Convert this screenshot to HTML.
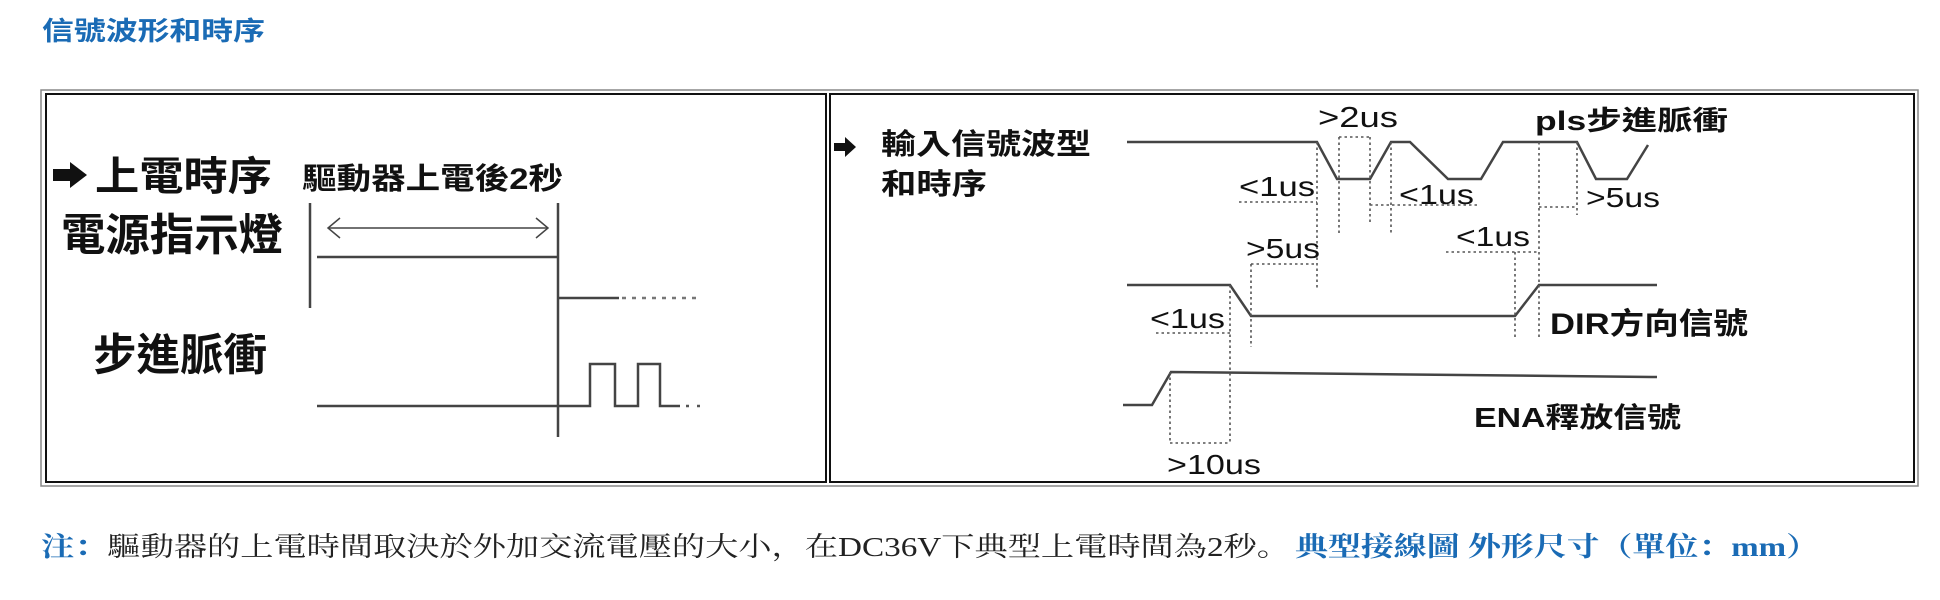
<!DOCTYPE html>
<html><head><meta charset="utf-8"><style>
html,body{margin:0;padding:0;background:#fff;width:1940px;height:600px;overflow:hidden}
svg{display:block}
.cj{font-family:"Liberation Sans","Noto Sans CJK TC",sans-serif;fill:#111}
.bd{font-weight:bold}
.ln{fill:none;stroke:#444;stroke-width:2.5}
.dt{fill:none;stroke:#555;stroke-width:1.6;stroke-dasharray:2.5,3}
.nt{font-family:"Liberation Serif","Noto Serif CJK SC","Noto Sans CJK TC",serif;font-size:27px}
</style></head><body>
<svg width="1940" height="600" viewBox="0 0 1940 600" xmlns="http://www.w3.org/2000/svg">
<text x="42" y="40" font-family="Liberation Sans, Noto Sans CJK TC, sans-serif" font-weight="bold" font-size="26" fill="#1a6bb5" textLength="223" lengthAdjust="spacingAndGlyphs">信號波形和時序</text>

<rect x="41" y="90" width="1877" height="396" fill="none" stroke="#888" stroke-width="1.5"/>
<rect x="46" y="94" width="780" height="388" fill="none" stroke="#111" stroke-width="2"/>
<rect x="830" y="94" width="1084" height="388" fill="none" stroke="#111" stroke-width="2"/>

<!-- left panel -->
<polygon points="53,169 70,169 70,162 87,175 70,188 70,181 53,181" fill="#111"/>
<text class="cj bd" x="95" y="190" font-size="40" textLength="177" lengthAdjust="spacingAndGlyphs">上電時序</text>
<text class="cj bd" x="302" y="189" font-size="30" textLength="261" lengthAdjust="spacingAndGlyphs">驅動器上電後2秒</text>
<text class="cj bd" x="61" y="250" font-size="44" textLength="222" lengthAdjust="spacingAndGlyphs">電源指示燈</text>
<text class="cj bd" x="93" y="370" font-size="44" textLength="174" lengthAdjust="spacingAndGlyphs">步進脈衝</text>

<line class="ln" x1="310" y1="203" x2="310" y2="308"/>
<line x1="328" y1="228" x2="548" y2="228" stroke="#444" stroke-width="1.5"/>
<polyline points="340,218 328,228 340,238" fill="none" stroke="#444" stroke-width="1.5"/>
<polyline points="536,218 548,228 536,238" fill="none" stroke="#444" stroke-width="1.5"/>
<line class="ln" x1="317" y1="257" x2="558" y2="257"/>
<line class="ln" x1="558" y1="203" x2="558" y2="437"/>
<line class="ln" x1="558" y1="298" x2="619" y2="298" stroke="#777"/>
<line x1="622" y1="298" x2="702" y2="298" stroke="#777" stroke-width="2.5" stroke-dasharray="4,6"/>
<polyline class="ln" points="317,406 590,406 590,364 615,364 615,406 638,406 638,364 660,364 660,406 680,406"/>
<line x1="686" y1="406" x2="702" y2="406" stroke="#555" stroke-width="2.5" stroke-dasharray="3,8"/>

<!-- right panel -->
<polygon points="834,143 845,143 845,137 856,147 845,157 845,151 834,151" fill="#111"/>
<text class="cj bd" x="881" y="154" font-size="29" textLength="210" lengthAdjust="spacingAndGlyphs">輸入信號波型</text>
<text class="cj bd" x="881" y="194" font-size="29" textLength="106" lengthAdjust="spacingAndGlyphs">和時序</text>

<polyline class="ln" points="1127,142 1317,142 1337,179 1370,179 1391,142 1410,142 1448,179 1481,179 1503,142 1577,142 1596,179 1627,179 1648,145"/>
<polyline class="ln" points="1127,285 1230,285 1251,316 1515,316 1539,285 1657,285"/>
<polyline class="ln" points="1123,405 1152,405 1171,372 1657,377"/>

<line class="dt" x1="1317" y1="142" x2="1317" y2="288"/>
<line class="dt" x1="1339" y1="137" x2="1339" y2="233"/>
<line class="dt" x1="1370" y1="137" x2="1370" y2="223"/>
<line class="dt" x1="1339" y1="137" x2="1370" y2="137"/>
<line class="dt" x1="1391" y1="142" x2="1391" y2="233"/>
<line class="dt" x1="1539" y1="142" x2="1539" y2="338"/>
<line class="dt" x1="1577" y1="142" x2="1577" y2="215"/>
<line class="dt" x1="1239" y1="202" x2="1317" y2="202"/>
<line class="dt" x1="1370" y1="205" x2="1478" y2="205"/>
<line class="dt" x1="1539" y1="207" x2="1577" y2="207"/>
<line class="dt" x1="1446" y1="252" x2="1539" y2="252"/>
<line class="dt" x1="1515" y1="252" x2="1515" y2="337"/>
<line class="dt" x1="1251" y1="264" x2="1317" y2="264"/>
<line class="dt" x1="1251" y1="264" x2="1251" y2="347"/>
<line class="dt" x1="1230" y1="285" x2="1230" y2="443"/>
<line class="dt" x1="1156" y1="333" x2="1230" y2="333"/>
<line class="dt" x1="1170" y1="372" x2="1170" y2="443"/>
<line class="dt" x1="1170" y1="443" x2="1230" y2="443"/>

<text class="cj" x="1318" y="127" font-size="29" textLength="80" lengthAdjust="spacingAndGlyphs">&gt;2us</text>
<text class="cj bd" x="1535" y="130" font-size="27" textLength="193" lengthAdjust="spacingAndGlyphs">pls步進脈衝</text>
<text class="cj" x="1239" y="196" font-size="28" textLength="76" lengthAdjust="spacingAndGlyphs">&lt;1us</text>
<text class="cj" x="1399" y="204" font-size="28" textLength="75" lengthAdjust="spacingAndGlyphs">&lt;1us</text>
<text class="cj" x="1586" y="207" font-size="28" textLength="74" lengthAdjust="spacingAndGlyphs">&gt;5us</text>
<text class="cj" x="1456" y="246" font-size="28" textLength="74" lengthAdjust="spacingAndGlyphs">&lt;1us</text>
<text class="cj" x="1246" y="258" font-size="28" textLength="74" lengthAdjust="spacingAndGlyphs">&gt;5us</text>
<text class="cj" x="1150" y="328" font-size="28" textLength="75" lengthAdjust="spacingAndGlyphs">&lt;1us</text>
<text class="cj bd" x="1550" y="334" font-size="30" textLength="198" lengthAdjust="spacingAndGlyphs">DIR方向信號</text>
<text class="cj" x="1167" y="474" font-size="28" textLength="94" lengthAdjust="spacingAndGlyphs">&gt;10us</text>
<text class="cj bd" x="1474" y="427" font-size="28" textLength="207" lengthAdjust="spacingAndGlyphs">ENA釋放信號</text>

<!-- note -->
<text class="nt" x="41" y="556" textLength="1249" lengthAdjust="spacingAndGlyphs"><tspan fill="#1a6bb5" font-weight="bold">注：</tspan><tspan fill="#222">驅動器的上電時間取決於外加交流電壓的大小，在DC36V下典型上電時間為2秒。</tspan></text>
<text class="nt" x="1295" y="556" fill="#1a6bb5" font-weight="bold" textLength="524" lengthAdjust="spacingAndGlyphs">典型接線圖 外形尺寸（單位：mm）</text>
</svg>
</body></html>
